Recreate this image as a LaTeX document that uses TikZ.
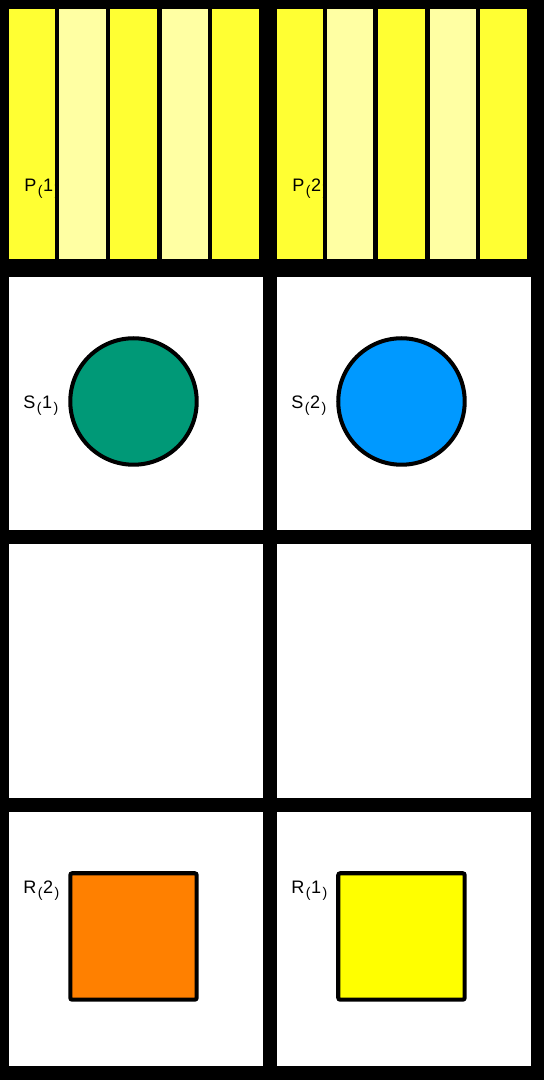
\documentclass[tikz,border=0pt]{standalone}
\usepackage{fontspec}
\setmainfont{Liberation Sans}
\begin{document}
\begin{tikzpicture}[x=1pt,y=-1pt,
  stripeA/.style={fill=strA},
  stripeB/.style={fill=strB},
  panel/.style={fill=white},
  lbl/.style={anchor=west,inner sep=0pt,font=\fontsize{18}{20}\selectfont},
  disc/.style={circle,draw=black,line width=4pt,minimum size=126pt,inner sep=0pt},
  sq/.style={rectangle,draw=black,line width=4pt,minimum size=126pt,inner sep=0pt,rounded corners=2pt}
]
\definecolor{strA}{HTML}{FFFF33}
\definecolor{strB}{HTML}{FFFFA3}
\definecolor{teal}{HTML}{009977}
\definecolor{sky}{HTML}{0099FF}
\definecolor{orng}{HTML}{FF8000}
\definecolor{yel}{HTML}{FFFF00}
\newcommand{\pr}[1]{{\fontsize{14}{14}\selectfont\raisebox{-4pt}{#1}}}
\newcommand{\lab}[2]{#1\hspace{1.5pt}\pr{(}\hspace{0.5pt}#2\hspace{1.5pt}\pr{)}}
\useasboundingbox (0,0) rectangle (542,1076);
\fill[black] (0,0) rectangle (542,1076);
% top left stripes
\fill[stripeA] (9,9) rectangle (55,258);
\node[lbl] (p1) at (24,188) {\lab{P}{1}};
\fill[stripeB] (59,9) rectangle (106,258);
\fill[stripeA] (110,9) rectangle (156,258);
\fill[stripeB] (161,9) rectangle (207,258);
\fill[stripeA] (211,9) rectangle (258,258);
% top right stripes
\fill[stripeA] (276,9) rectangle (322,258);
\node[lbl] (p2) at (291,188) {\lab{P}{2}};
\fill[stripeB] (326,9) rectangle (372,258);
\fill[stripeA] (377,9) rectangle (423,258);
\fill[stripeB] (428,9) rectangle (474,258);
\fill[stripeA] (478,9) rectangle (525,258);
% white panels
\fill[panel] (9,276) rectangle (262,528);
\fill[panel] (276,276) rectangle (529,528);
\fill[panel] (9,542) rectangle (262,795);
\fill[panel] (276,542) rectangle (529,795);
\fill[panel] (9,809) rectangle (262,1062);
\fill[panel] (276,809) rectangle (529,1062);
% circles
\node[disc,fill=teal] (s1c) at (133,400) {};
\node[disc,fill=sky] (s2c) at (400,400) {};
\node[lbl] (s1) at (23,404) {\lab{S}{1}};
\node[lbl] (s2) at (290,404) {\lab{S}{2}};
% squares
\node[sq,fill=orng] (r2s) at (133,933) {};
\node[sq,fill=yel] (r1s) at (400,933) {};
\node[lbl] (r2) at (23,887) {\lab{R}{2}};
\node[lbl] (r1) at (290,887) {\lab{R}{1}};
\end{tikzpicture}
\end{document}
